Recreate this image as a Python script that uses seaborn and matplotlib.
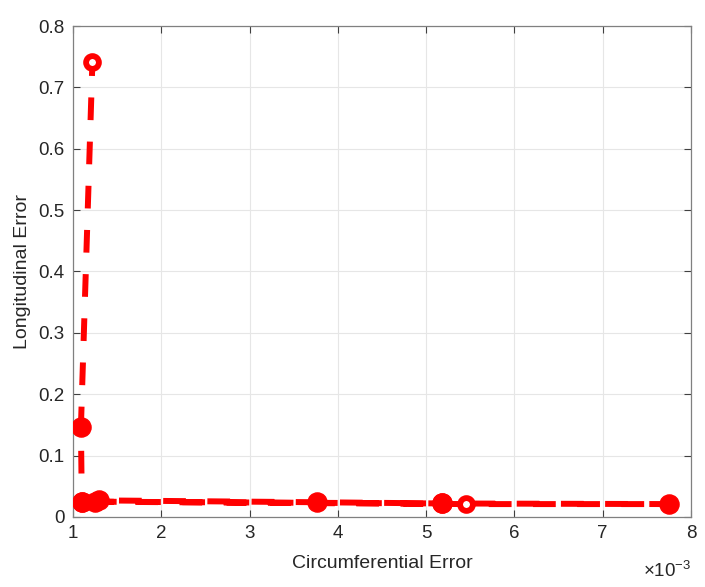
import pandas as pd
import seaborn as sns
import matplotlib.pyplot as plt
from matplotlib.ticker import FuncFormatter

# points in drawing order (the path goes back and forth over the bottom segment)
circ_error = [1.22e-3, 1.09e-3, 1.10e-3, 1.25e-3, 1.30e-3, 3.77e-3, 5.18e-3, 7.75e-3, 5.45e-3, 1.10e-3, 5.18e-3]
long_error = [0.741, 0.147, 0.025, 0.024, 0.027, 0.024, 0.022, 0.021, 0.021, 0.025, 0.022]
hollow = [True, False, False, False, False, False, False, False, True, False, False]

df = pd.DataFrame({'circ': circ_error, 'long': long_error, 'hollow': hollow})

sns.set_theme(style="white")
plt.rcParams['font.family'] = ['Liberation Sans', 'DejaVu Sans']
plt.rcParams['mathtext.fontset'] = 'custom'
plt.rcParams['mathtext.rm'] = 'Liberation Sans'

txt = '#262626'
fig = plt.figure(figsize=(7.05, 5.87), dpi=100)
ax = fig.add_axes([0.1035, 0.1193, 0.8765, 0.8364])

sns.lineplot(data=df, x='circ', y='long', sort=False, estimator=None, ax=ax,
             color='#ff0000', linewidth=4.3, dashes=False, linestyle=(1.5, (3.8, 3.6)))
sns.scatterplot(data=df[~df.hollow], x='circ', y='long', ax=ax, color='#ff0000',
                s=190, edgecolor='#ff0000', linewidth=1, zorder=3)
sns.scatterplot(data=df[df.hollow], x='circ', y='long', ax=ax, facecolor='white',
                s=85, edgecolor='#ff0000', linewidth=4.2, zorder=3)

ax.set_xlim(1e-3, 8e-3)
ax.set_ylim(0, 0.8)
ax.set_xticks([i * 1e-3 for i in range(1, 9)])
ax.set_yticks([i / 10 for i in range(0, 9)])
ax.xaxis.set_major_formatter(FuncFormatter(lambda v, _: f'{v * 1e3:g}'))
ax.yaxis.set_major_formatter(FuncFormatter(lambda v, _: f'{v:g}'))
ax.text(1.0, -0.122, r'$\times10^{-3}$', transform=ax.transAxes, ha='right',
        va='baseline', fontsize=13.5, color=txt)

ax.grid(True, color='#e6e6e6', linewidth=0.8)
ax.tick_params(direction='in', length=5, width=0.8, colors='#404040', labelcolor=txt,
               labelsize=13.5, top=True, right=True, bottom=True, left=True, pad=6)
for sp in ax.spines.values():
    sp.set_color('#808080')
    sp.set_linewidth(0.9)

ax.set_xlabel('Circumferential Error', fontsize=14, color=txt, labelpad=9)
ax.set_ylabel('Longitudinal Error', fontsize=14, color=txt, labelpad=5)
if ax.get_legend():
    ax.get_legend().remove()

plt.savefig('out.png', dpi=100)
